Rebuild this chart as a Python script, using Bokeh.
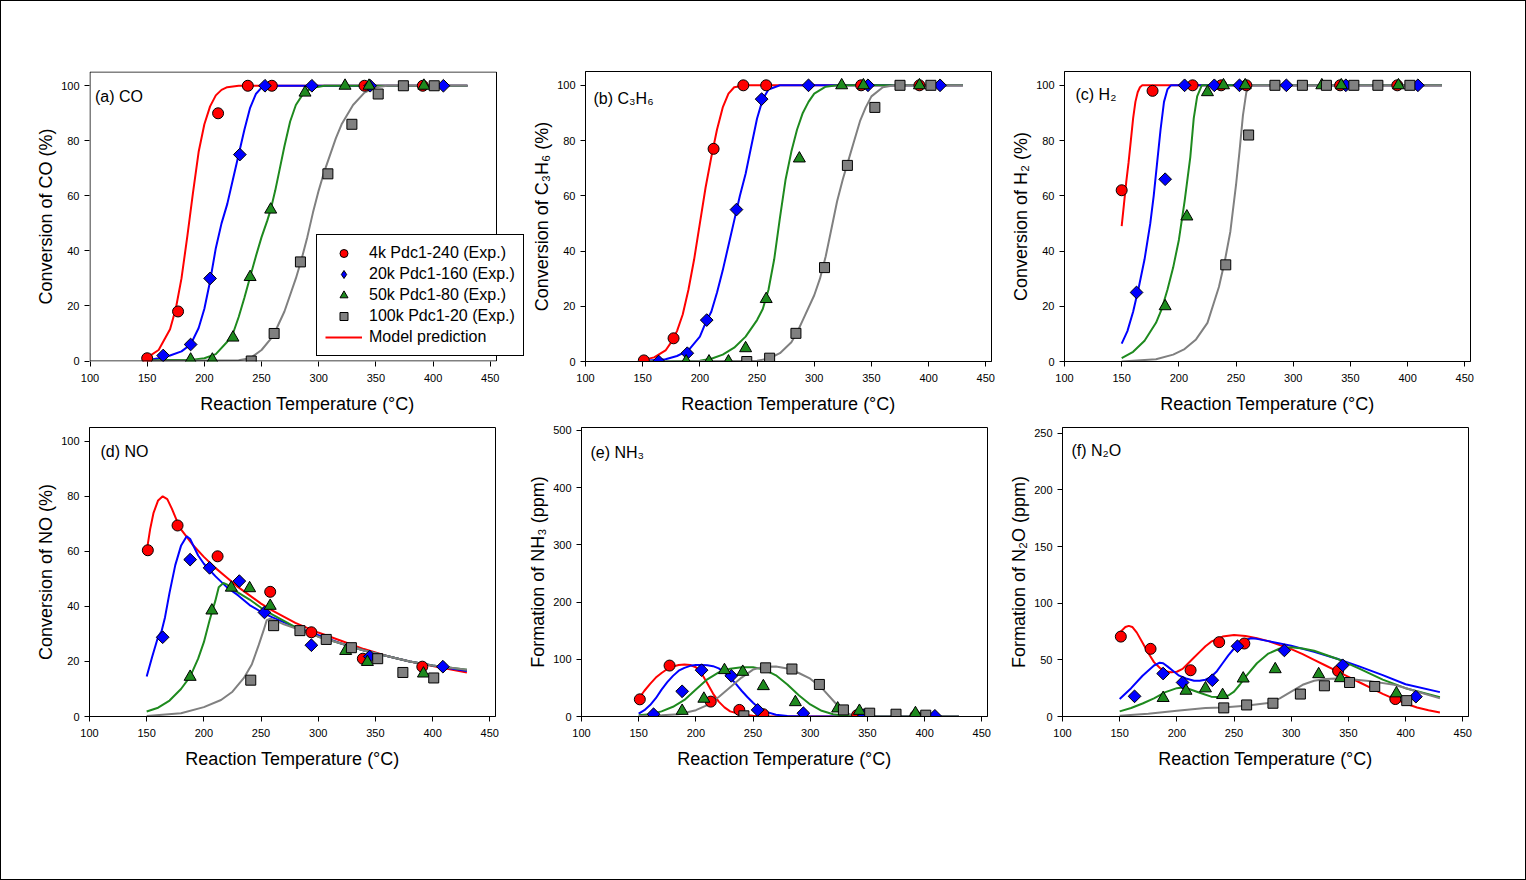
import math
from bokeh.plotting import figure
from bokeh.models import Range1d, FixedTicker, Legend, LegendItem, Label, BoxAnnotation
from bokeh.layouts import row, column
from bokeh.embed import file_html
from bokeh.resources import INLINE

# ---------------- data ----------------
SERIES_LABELS = ["4k Pdc1-240 (Exp.)", "20k Pdc1-160 (Exp.)", "50k Pdc1-80 (Exp.)", "100k Pdc1-20 (Exp.)"]
MODEL_LABEL = "Model prediction"
X_TICKS = [100, 150, 200, 250, 300, 350, 400, 450]
X_LABEL = "Reaction Temperature (°C)"

# (a) CO conversion (%)
co_t_4k = [150, 177, 212, 238, 259, 340, 391]
co_y_4k = [1, 18, 90, 100, 100, 100, 100]
co_t_20k = [164, 188, 205, 231, 253, 294, 345, 409]
co_y_20k = [2, 6, 30, 75, 100, 100, 100, 100]
co_t_50k = [188, 207, 225, 240, 258, 288, 323, 344, 392]
co_y_50k = [0.5, 0.5, 8.5, 30.5, 55, 97.5, 100, 100, 100]
co_t_100k = [241, 261, 284, 308, 329, 352, 374, 401]
co_y_100k = [0, 10, 36, 68, 86, 97, 100, 100]
co_mt_4k = [150, 160, 170, 175, 180, 185, 190, 195, 200, 205, 210, 215, 220, 230, 250, 300, 350, 400, 430]
co_my_4k = [1.2, 4, 11.5, 19, 30, 45, 61, 76, 86, 92.5, 96.5, 98.5, 99.5, 100, 100, 100, 100, 100, 100]
co_mt_20k = [150, 160, 170, 180, 188, 195, 200, 205, 210, 215, 220, 225, 230, 235, 240, 245, 250, 255, 300, 350, 430]
co_my_20k = [0.3, 1, 2, 3.5, 6, 12, 19, 29, 41, 50, 57, 66, 75, 84, 92, 97, 99.3, 100, 100, 100, 100]
co_mt_50k = [150, 190, 200, 210, 220, 225, 230, 235, 240, 245, 250, 255, 258, 262, 266, 270, 275, 280, 287, 295, 305, 350, 430]
co_my_50k = [0.3, 0.5, 1, 2.5, 7, 10, 16, 23, 30.5, 38, 45, 51, 55, 62, 70, 78, 87, 93, 97.5, 99.3, 100, 100, 100]
co_mt_100k = [150, 230, 240, 250, 260, 270, 280, 285, 290, 295, 300, 305, 310, 315, 320, 330, 340, 350, 360, 430]
co_my_100k = [0, 0.3, 1, 4, 9, 18, 30, 37, 45, 54, 62, 69, 75, 81, 86, 93, 97.5, 99.5, 100, 100]

# (b) C3H6 conversion (%)
c3h6_t_4k = [151, 177, 212, 238, 258, 341, 392]
c3h6_y_4k = [0.4, 8.4, 77, 100, 100, 100, 100]
c3h6_t_20k = [164, 189, 206, 232, 254, 295, 347, 410]
c3h6_y_20k = [0, 3, 15, 55, 95, 100, 100, 100]
c3h6_t_50k = [188, 208, 225, 240, 258, 287, 324, 343, 392]
c3h6_y_50k = [0, 0, 0, 4.8, 22.6, 73.5, 100, 100, 100]
c3h6_t_100k = [241, 261, 284, 309, 329, 353, 375, 402]
c3h6_y_100k = [0, 1.2, 10.2, 34, 71, 92, 100, 100]
c3h6_mt_4k = [150, 160, 170, 175, 180, 185, 190, 195, 200, 205, 210, 215, 220, 225, 230, 240, 300, 350, 430]
c3h6_my_4k = [0.5, 1.5, 4, 7, 11, 17, 26, 37, 50, 63, 74, 84, 92, 97, 99.3, 100, 100, 100, 100]
c3h6_mt_20k = [150, 170, 180, 190, 200, 205, 210, 215, 220, 225, 230, 235, 240, 245, 250, 255, 260, 270, 300, 430]
c3h6_my_20k = [0.2, 0.8, 2, 4, 9, 14, 18, 25, 33, 42, 51, 60, 68, 78, 88, 95, 98.5, 100, 100, 100]
c3h6_mt_50k = [150, 200, 210, 220, 230, 240, 250, 255, 260, 265, 270, 275, 280, 285, 290, 295, 300, 310, 320, 430]
c3h6_my_50k = [0, 0.3, 1, 2.5, 5, 9, 15, 19, 26, 37, 52, 66, 76, 84, 90, 94, 97, 99.5, 100, 100]
c3h6_mt_100k = [150, 250, 260, 270, 280, 285, 290, 300, 305, 310, 315, 320, 325, 330, 335, 340, 345, 350, 360, 370, 430]
c3h6_my_100k = [0, 0.3, 1, 3, 7, 10.5, 15, 24, 30, 38, 48, 58, 66, 73, 80, 87, 92, 96, 99.3, 100, 100]

# (c) H2 conversion (%)
h2_t_4k = [150, 177, 212, 237, 259, 341, 391]
h2_y_4k = [62, 98, 100, 100, 100, 100, 100]
h2_t_20k = [163, 188, 205, 231, 253, 294, 346, 409]
h2_y_20k = [25, 66, 100, 100, 100, 100, 100, 100]
h2_t_50k = [188, 207, 225, 239, 258, 325, 342, 392]
h2_y_50k = [20, 52.5, 97.5, 100, 100, 100, 100, 100]
h2_t_100k = [241, 261, 284, 308, 329, 353, 374, 402]
h2_y_100k = [35, 82, 100, 100, 100, 100, 100, 100]
h2_mt_4k = [150, 152, 154, 156, 158, 160, 162, 164, 166, 168, 430]
h2_my_4k = [49, 57, 65, 72, 80, 88, 94, 97.5, 99.3, 100, 100]
h2_mt_20k = [150, 155, 160, 165, 170, 175, 178, 181, 184, 187, 190, 193, 430]
h2_my_20k = [6.5, 11, 18, 27, 37, 50, 60, 72, 84, 94, 98.5, 100, 100]
h2_mt_50k = [150, 160, 170, 180, 185, 190, 195, 200, 205, 210, 213, 216, 220, 430]
h2_my_50k = [1.2, 3.5, 7.5, 14, 19, 26, 34, 44, 58, 74, 88, 96, 100, 100]
h2_mt_100k = [150, 180, 195, 205, 215, 225, 235, 240, 245, 250, 253, 256, 259, 262, 430]
h2_my_100k = [0, 0.8, 2.5, 4.5, 8, 14, 27, 36, 47, 64, 76, 89, 97.5, 100, 100]

# (d) NO conversion (%)
no_t_4k = [151, 177, 212, 258, 294, 339, 391]
no_y_4k = [60.4, 69.4, 58.2, 45.3, 30.6, 21, 18.1]
no_t_20k = [164, 188, 205, 231, 253, 294, 345, 409]
no_y_20k = [28.8, 57, 54, 49.2, 37.8, 25.9, 21.8, 18.1]
no_t_50k = [188, 207, 224, 240, 258, 324, 343, 392]
no_y_50k = [14.4, 38.5, 46.8, 46.6, 40.2, 23.8, 19.8, 15.6]
no_t_100k = [241, 261, 284, 307, 329, 352, 374, 401]
no_y_100k = [13.2, 33, 31.2, 28, 25, 21, 16, 14]
no_mt_4k = [150, 153, 156, 160, 164, 168, 172, 176, 180, 190, 200, 210, 220, 230, 240, 250, 260, 280, 300, 320, 340, 360, 380, 400, 430]
no_my_4k = [60, 68, 74, 78.5, 80, 79, 75.5, 71.5, 68, 62.5, 58, 54, 50.5, 47, 44, 41, 38.5, 34, 30.5, 27.5, 24.5, 22, 20, 18.3, 16]
no_mt_20k = [150, 155, 160, 163, 166, 170, 175, 180, 185, 188, 195, 200, 210, 220, 230, 240, 250, 260, 280, 300, 320, 340, 360, 380, 400, 430]
no_my_20k = [14.5, 22, 29, 31, 36, 45, 55, 62, 65.5, 64.5, 58.5, 55.5, 51, 47, 44, 40.5, 38, 36, 32.5, 29.5, 26.5, 24, 22, 20, 18.5, 16.5]
no_mt_50k = [150, 160, 170, 180, 188, 195, 200, 205, 210, 213, 217, 220, 225, 230, 240, 250, 260, 280, 300, 320, 340, 360, 380, 400, 430]
no_my_50k = [1.8, 3.2, 5.8, 10, 14.5, 21, 27, 35, 42, 47, 48.5, 48, 46.5, 45, 42.5, 39.5, 37, 32.5, 29, 26.5, 24, 22, 20, 18.5, 17]
no_mt_100k = [150, 180, 200, 215, 225, 235, 242, 248, 252, 255, 258, 262, 270, 280, 300, 320, 340, 360, 380, 400, 430]
no_my_100k = [0.2, 1.2, 3.4, 6, 9, 14, 19, 26, 31, 35, 35.5, 35, 33.5, 32, 29, 26.5, 24, 22, 20, 18.5, 17]

# (e) NH3 formation (ppm)
nh3_t_4k = [151, 177, 213, 238, 259, 341, 392]
nh3_y_4k = [30, 89, 26, 11.5, 4, 2.3, 1.2]
nh3_t_20k = [163, 188, 205, 231, 254, 294, 347, 409]
nh3_y_20k = [4, 44, 81, 71, 11.5, 5.8, 2.3, 1.2]
nh3_t_50k = [188, 207, 225, 241, 259, 287, 324, 343, 392]
nh3_y_50k = [9.8, 31, 81, 78, 53, 25, 14, 9.8, 5.8]
nh3_t_100k = [242, 261, 284, 308, 329, 352, 375, 401]
nh3_y_100k = [1.2, 85, 83, 56, 11.5, 5.8, 4, 2.3]
nh3_mt_4k = [150, 155, 160, 165, 170, 175, 180, 185, 190, 195, 200, 205, 210, 215, 220, 225, 230, 240, 250, 260, 280, 430]
nh3_my_4k = [31, 45, 57, 68, 76, 83, 87.5, 90, 91, 90, 86, 75, 58, 40, 26, 16, 9, 3.5, 1.5, 0.5, 0.1, 0]
nh3_mt_20k = [150, 155, 160, 165, 170, 175, 180, 185, 190, 195, 200, 205, 210, 215, 220, 225, 230, 235, 240, 245, 250, 255, 260, 270, 280, 300, 430]
nh3_my_20k = [5, 11, 20, 32, 47, 60, 71, 80, 85, 88.5, 90, 90, 89.5, 88, 84, 77, 68, 57, 45, 34, 24, 15, 9, 3, 1, 0.2, 0]
nh3_mt_50k = [150, 160, 170, 180, 190, 200, 210, 220, 230, 240, 250, 260, 270, 280, 290, 300, 310, 320, 330, 340, 350, 430]
nh3_my_50k = [2, 4, 9, 17, 29, 47, 65, 77, 83.5, 86, 86, 82, 72, 56, 37, 21, 10, 4, 1.5, 0.5, 0.2, 0]
nh3_mt_100k = [150, 170, 185, 200, 210, 220, 230, 240, 250, 260, 270, 280, 290, 300, 310, 320, 325, 330, 335, 340, 350, 430]
nh3_my_100k = [1, 2, 4, 11, 20, 34, 51, 68, 82, 87, 87.5, 84, 76, 66, 50, 28, 17, 8, 3.5, 1.5, 0.5, 0]

# (f) N2O formation (ppm)
n2o_t_4k = [151, 177, 212, 237, 259, 341, 391]
n2o_y_4k = [70.5, 59.7, 40.8, 65.6, 64.4, 40.2, 15.4]
n2o_t_20k = [163, 188, 205, 231, 253, 294, 345, 409]
n2o_y_20k = [17.8, 37.9, 30, 32, 62, 58.3, 45.2, 17.5]
n2o_t_50k = [188, 208, 225, 240, 258, 286, 324, 343, 392]
n2o_y_50k = [16.3, 22.7, 24.8, 18.9, 33.5, 41.7, 37.3, 33.8, 20.4]
n2o_t_100k = [241, 261, 284, 308, 329, 351, 373, 401]
n2o_y_100k = [7.6, 10.2, 11.7, 19.8, 27.1, 30, 26.5, 14]
n2o_mt_4k = [150, 155, 158, 161, 165, 170, 175, 180, 185, 190, 195, 200, 205, 210, 215, 220, 225, 230, 240, 250, 260, 270, 280, 290, 300, 310, 320, 330, 340, 350, 360, 370, 380, 390, 400, 410, 420, 430]
n2o_my_4k = [74, 79, 80, 79, 74, 65, 56, 48, 43, 40, 39, 39.5, 42, 47, 52, 57, 62, 66, 70.5, 72, 71, 69, 66.5, 63, 59.5, 55, 50, 45, 40, 35, 30, 25, 20, 15.5, 11.5, 8, 5.5, 3.5]
n2o_mt_20k = [150, 160, 170, 180, 185, 188, 192, 197, 202, 208, 215, 220, 225, 230, 235, 240, 245, 250, 255, 260, 265, 270, 280, 300, 320, 340, 360, 380, 400, 430]
n2o_my_20k = [15.5, 25, 36, 45, 47.5, 47, 44, 40, 36, 33.5, 31.5, 31.5, 32.5, 35, 40, 47, 54, 60, 64.5, 67.5, 69, 68.5, 66.5, 62.5, 57, 51, 44, 36.5, 28.5, 21.5]
n2o_mt_50k = [150, 160, 170, 180, 190, 200, 205, 210, 220, 230, 240, 245, 250, 255, 260, 270, 280, 290, 300, 310, 320, 340, 360, 380, 400, 430]
n2o_my_50k = [4.5, 7.5, 11.5, 16, 21.5, 25, 25.5, 24.5, 21, 17.5, 17, 18.5, 22, 28, 35, 47, 55.5, 60, 61, 60, 58, 51, 42, 32.5, 25, 17]
n2o_mt_100k = [150, 175, 200, 225, 240, 260, 280, 290, 300, 310, 320, 330, 340, 350, 370, 390, 410, 430]
n2o_my_100k = [0.6, 2.5, 5, 7.5, 8, 9.5, 12, 16, 22, 28, 31.5, 33, 33.5, 33, 31, 28, 22, 16]

# ---------------- styling ----------------
FONT = "Liberation Sans"
COLORS = ["#ff0000", "#0000ff", "#1e8a1e", "#808080"]
MARKERS = [("circle", 11, 0.0), ("square", 9, math.pi / 4), ("triangle", 12, 0.0), ("square", 10, 0.0)]
LEGEND_MARKERS = ["circle", "diamond", "triangle", "square"]
X_START, X_END = 100, 455
FRAME_W, FRAME_H = 406, 292
XSCALE = FRAME_W / (X_END - X_START)

PANELS = [
    dict(tag="(a) CO", ylabel="Conversion of CO (%)", ymax=105, yticks=[0, 20, 40, 60, 80, 100],
         exp=[(co_t_4k, co_y_4k), (co_t_20k, co_y_20k), (co_t_50k, co_y_50k), (co_t_100k, co_y_100k)],
         model=[(co_mt_4k, co_my_4k), (co_mt_20k, co_my_20k), (co_mt_50k, co_my_50k), (co_mt_100k, co_my_100k)],
         geom=(524, 417, 88, 0, 70, 55), extra_w=30, tag_off=(5, -25)),
    dict(tag="(b) C₃H₆", ylabel="Conversion of C₃H₆ (%)", ymax=105, yticks=[0, 20, 40, 60, 80, 100],
         exp=[(c3h6_t_4k, c3h6_y_4k), (c3h6_t_20k, c3h6_y_20k), (c3h6_t_50k, c3h6_y_50k), (c3h6_t_100k, c3h6_y_100k)],
         model=[(c3h6_mt_4k, c3h6_my_4k), (c3h6_mt_20k, c3h6_my_20k), (c3h6_mt_50k, c3h6_my_50k), (c3h6_mt_100k, c3h6_my_100k)],
         geom=(475, 417, 60, 9, 68, 57), extra_w=0, tag_off=(8, -27)),
    dict(tag="(c) H₂", ylabel="Conversion of H₂ (%)", ymax=105, yticks=[0, 20, 40, 60, 80, 100],
         exp=[(h2_t_4k, h2_y_4k), (h2_t_20k, h2_y_20k), (h2_t_50k, h2_y_50k), (h2_t_100k, h2_y_100k)],
         model=[(h2_mt_4k, h2_my_4k), (h2_mt_20k, h2_my_20k), (h2_mt_50k, h2_my_50k), (h2_mt_100k, h2_my_100k)],
         geom=(525, 417, 64, 55, 69, 56), extra_w=0, tag_off=(11, -23)),
    dict(tag="(d) NO", ylabel="Conversion of NO (%)", ymax=105, yticks=[0, 20, 40, 60, 80, 100],
         exp=[(no_t_4k, no_y_4k), (no_t_20k, no_y_20k), (no_t_50k, no_y_50k), (no_t_100k, no_y_100k)],
         model=[(no_mt_4k, no_my_4k), (no_mt_20k, no_my_20k), (no_mt_50k, no_my_50k), (no_mt_100k, no_my_100k)],
         geom=(524, 461, 88, 30, 7, 162), extra_w=0, tag_off=(11, -24)),
    dict(tag="(e) NH₃", ylabel="Formation of NH₃ (ppm)", ymax=505, yticks=[0, 100, 200, 300, 400, 500],
         exp=[(nh3_t_4k, nh3_y_4k), (nh3_t_20k, nh3_y_20k), (nh3_t_50k, nh3_y_50k), (nh3_t_100k, nh3_y_100k)],
         model=[(nh3_mt_4k, nh3_my_4k), (nh3_mt_20k, nh3_my_20k), (nh3_mt_50k, nh3_my_50k), (nh3_mt_100k, nh3_my_100k)],
         geom=(475, 461, 56, 13, 9, 160), extra_w=0, tag_off=(9, -25)),
    dict(tag="(f) N₂O", ylabel="Formation of N₂O (ppm)", ymax=255, yticks=[0, 50, 100, 150, 200, 250],
         exp=[(n2o_t_4k, n2o_y_4k), (n2o_t_20k, n2o_y_20k), (n2o_t_50k, n2o_y_50k), (n2o_t_100k, n2o_y_100k)],
         model=[(n2o_mt_4k, n2o_my_4k), (n2o_mt_20k, n2o_my_20k), (n2o_mt_50k, n2o_my_50k), (n2o_mt_100k, n2o_my_100k)],
         geom=(525, 461, 62, 57, 6, 163), extra_w=0, tag_off=(9, -23)),
]


def make_panel(spec, with_legend=False):
    w, h, bl, br, bt, bb = spec["geom"]
    extra = spec["extra_w"]
    ymax = spec["ymax"]
    if extra:
        # frame is widened so the legend box can reach past the drawn panel border;
        # the visible panel border is drawn as a box annotation at the axis limits
        yscale = FRAME_H / ymax
        half_x = 0.5 / XSCALE
        half_y = 0.5 / yscale
        xr = Range1d(X_START - half_x, X_START - half_x + (FRAME_W + extra) / XSCALE)
        yr = Range1d(-half_y, ymax + half_y)
    else:
        xr = Range1d(X_START, X_END)
        yr = Range1d(0, ymax)
    p = figure(width=w, height=h, x_range=xr, y_range=yr,
               output_backend="svg", toolbar_location=None, title=None,
               min_border_left=bl, min_border_right=br, min_border_top=bt, min_border_bottom=bb)
    p.xgrid.visible = False
    p.ygrid.visible = False
    p.background_fill_color = "white"
    p.border_fill_color = "white"
    for ax in (p.xaxis[0], p.yaxis[0]):
        ax.major_tick_out = 5
        ax.major_tick_in = 0
        ax.minor_tick_out = 0
        ax.minor_tick_in = 0
        ax.axis_line_color = "black"
        ax.major_tick_line_color = "black"
        ax.major_label_text_font = FONT
        ax.major_label_text_font_size = "11px"
        ax.major_label_text_color = "black"
        ax.axis_label_text_font = FONT
        ax.axis_label_text_font_size = "18px"
        ax.axis_label_text_font_style = "normal"
        ax.axis_label_text_color = "black"
    p.xaxis.major_label_standoff = 7
    p.yaxis.major_label_standoff = 5
    p.xaxis.ticker = FixedTicker(ticks=X_TICKS)
    p.yaxis.ticker = FixedTicker(ticks=spec["yticks"])
    p.xaxis.axis_label = X_LABEL
    p.xaxis.axis_label_standoff = 9
    p.yaxis.axis_label = spec["ylabel"]
    p.yaxis.axis_label_standoff = 2

    if extra:
        p.outline_line_color = None
        p.xaxis.axis_line_color = None
        p.yaxis.axis_line_color = None
        p.add_layout(BoxAnnotation(left=X_START, right=X_END + 0.5 / XSCALE, bottom=0, top=ymax,
                                   fill_alpha=0, line_color="black", line_width=1, line_alpha=1.0))
    else:
        p.outline_line_color = "black"
        p.outline_line_alpha = 1.0
        p.outline_line_width = 1

    line_rs = []
    for (mt, my), col in zip(spec["model"], COLORS):
        line_rs.append(p.line(mt, my, line_color=col, line_width=2))
    scat_rs = []
    for (t, y), col, (mk, sz, ang) in zip(spec["exp"], COLORS, MARKERS):
        scat_rs.append(p.scatter(t, y, marker=mk, size=sz, angle=ang, fill_color=col,
                                 line_color="black", line_width=1))

    ox, oy = spec["tag_off"]
    p.add_layout(Label(x=X_START, y=ymax, x_offset=ox, y_offset=oy, text=spec["tag"],
                       text_font=FONT, text_font_size="16px", text_color="black",
                       text_baseline="alphabetic", text_align="left"))

    if with_legend:
        # hidden duplicates of the experimental series, used only as legend swatches
        swatches = [p.scatter(t, y, marker=mk, size=10, fill_color=col, line_color="black",
                              line_width=1, visible=False)
                    for (t, y), mk, col in zip(spec["exp"], LEGEND_MARKERS, COLORS)]
        items = [LegendItem(label=lbl, renderers=[r]) for lbl, r in zip(SERIES_LABELS, swatches)]
        items.append(LegendItem(label=MODEL_LABEL, renderers=[line_rs[0]]))
        lg = Legend(items=items, location=(227, 5), margin=0, padding=8, spacing=1,
                    glyph_width=37, glyph_height=20, label_height=20, label_standoff=7,
                    label_text_font=FONT, label_text_font_size="16px", label_text_color="black",
                    border_line_color="black", border_line_width=1, border_line_alpha=1.0,
                    background_fill_color="white", background_fill_alpha=1.0,
                    click_policy="none")
        p.add_layout(lg)
    return p


figs = [make_panel(s, with_legend=(i == 0)) for i, s in enumerate(PANELS)]
layout = column(row(*figs[:3], spacing=0), row(*figs[3:], spacing=0), spacing=0,
                styles={"outline": "1px solid black", "margin": "1px"})

open("out.html", "w").write(file_html(layout, INLINE))
